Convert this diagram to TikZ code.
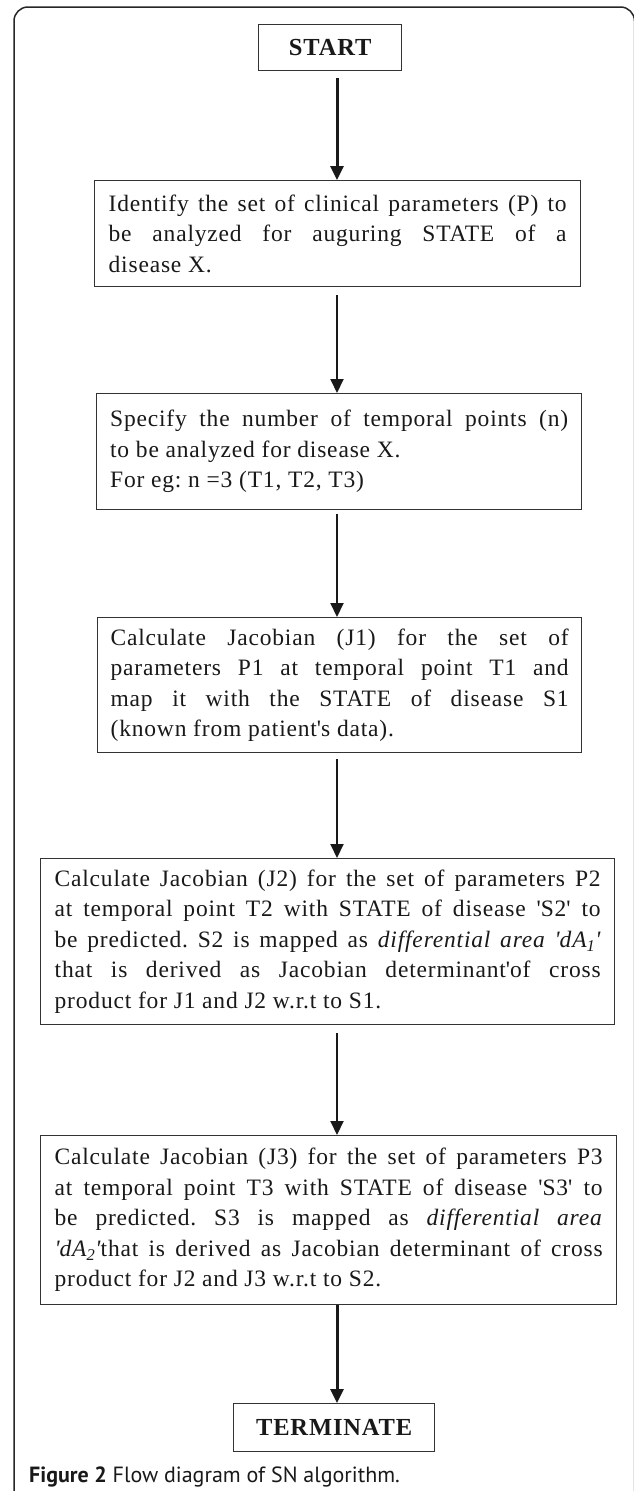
\documentclass[tikz,border=0pt]{standalone}
\usepackage{fontspec}
\setmainfont{Liberation Serif}
\newfontfamily\bodyfont{Liberation Serif}[LetterSpace=3.5]
\newfontfamily\capfont{PT Sans}
\usetikzlibrary{arrows.meta}
\hbadness=10000
\hfuzz=30pt
\frenchspacing
\newcommand\sq{\textquotesingle}
\begin{document}
\begin{tikzpicture}[x=1pt,y=-1pt,
  box/.style={draw=black!80, line width=1.3pt, fill=white, inner xsep=0pt, inner ysep=0pt,
    anchor=north west, font=\bodyfont\fontsize{23.5}{30.5}\selectfont, align=justify, text=black!90},
  termbox/.style={draw=black!80, line width=1.3pt, fill=white, anchor=north west, inner sep=0pt,
    font=\bodyfont\fontsize{24.5}{28}\selectfont\bfseries, align=center, text=black!90},
  arr/.style={-{Triangle[width=13pt,length=14pt]}, line width=2pt, black!90},
  thickarr/.style={arr, line width=3pt},
  frame/.style={line width=1.5pt, black!85, rounded corners=14pt}
]
\useasboundingbox (0,0) rectangle (634,1491);
\draw[frame] (14,1500) -- (14,7) -- (634.5,7) -- (634.5,1500);

\node[termbox, minimum width=143pt, minimum height=46pt] (start) at (258,24) {START};

\node[box, minimum width=486pt, minimum height=106pt, text width=458pt] (identify) at (94,180)
 {Identify the set of clinical parameters (P) to\linebreak be analyzed for auguring STATE of a\linebreak disease X.};

\node[box, minimum width=485pt, minimum height=116pt, text width=458pt] (specify) at (96,393)
 {Specify the number of temporal points (n)\linebreak to be analyzed for disease X.\newline For eg: n =3 (T1, T2, T3)};

\node[box, minimum width=484pt, minimum height=135pt, text width=458pt] (jone) at (97,617)
 {Calculate Jacobian (J1) for the set of\linebreak parameters P1 at temporal point T1 and\linebreak map it with the STATE of disease S1\linebreak (known from patient\sq s data).};

\node[box, minimum width=574pt, minimum height=166pt, text width=546pt] (jtwo) at (40,858)
 {Calculate Jacobian (J2) for the set of parameters P2\linebreak at temporal point T2 with STATE of disease \sq S2\sq{} to\linebreak be predicted. S2 is mapped as \textit{differential area \sq dA\textsubscript{1}\sq}\linebreak that is derived as Jacobian determinant\sq of cross\linebreak product for J1 and J2 w.r.t to S1.};

\node[box, minimum width=576pt, minimum height=169pt, text width=548pt] (jthree) at (40,1135)
 {Calculate Jacobian (J3) for the set of parameters P3\linebreak at temporal point T3 with STATE of disease \sq S3\sq{} to\linebreak be predicted. S3 is mapped as \textit{differential area}\linebreak \textit{\sq dA\textsubscript{2}\sq}that is derived as Jacobian determinant of cross\linebreak product for J2 and J3 w.r.t to S2.};

\node[termbox, minimum width=201pt, minimum height=48pt] (term) at (233,1403) {TERMINATE};

\node[anchor=west, inner sep=0pt, font=\capfont\fontsize{22}{26}\selectfont, text=black!90] (cap) at (29,1477)
 {\textbf{Figure 2} Flow diagram of SN algorithm.};

\coordinate (ax) at (337,0);
\draw[thickarr, shorten <=7pt] (start.south -| ax) -- (identify.north -| ax);
\draw[arr, shorten <=8pt] (identify.south -| ax) -- (specify.north -| ax);
\draw[arr, shorten <=4pt] (specify.south -| ax) -- (jone.north -| ax);
\draw[arr, shorten <=6pt] (jone.south -| ax) -- (jtwo.north -| ax);
\draw[arr, shorten <=8pt] (jtwo.south -| ax) -- (jthree.north -| ax);
\draw[thickarr] (jthree.south -| ax) -- (term.north -| ax);
\end{tikzpicture}
\end{document}
